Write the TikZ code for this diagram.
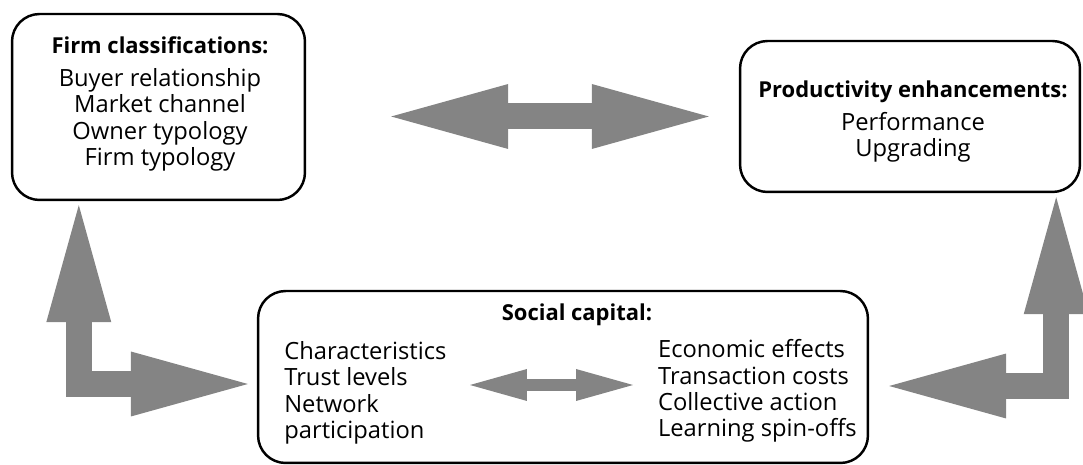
\documentclass[tikz,border=0pt]{standalone}
\usepackage{fontspec}
\setmainfont{Open Sans}
\usepackage{tikz}
\usetikzlibrary{arrows.meta, calc}
\definecolor{arrowgray}{RGB}{132,132,132}

\begin{document}
\begin{tikzpicture}[x=0.02cm, y=-0.02cm,
    roundbox/.style={draw, line width=1.4pt, rounded corners=0.55cm, inner sep=0pt},
    boxtitle/.style={font=\fontsize{12.5}{15}\selectfont\bfseries, inner sep=0pt},
    boxitems/.style={font=\fontsize{13.5}{15}\selectfont, inner sep=0pt},
    bigtip/.tip={Triangle[length=2.34cm, width=1.3cm, line width=0pt]},
    smalltip/.tip={Triangle[length=1.14cm, width=0.64cm, line width=0pt]},
    fatarrow/.style={draw=arrowgray, line width=0.52cm, bigtip-bigtip},
    slimarrow/.style={draw=arrowgray, line width=0.24cm, smalltip-smalltip}]
    \useasboundingbox (0,0) rectangle (1083,465);

    \node[roundbox, minimum width=5.86cm, minimum height=3.72cm] at (158.5,107) (fc) {};
    \node[roundbox, minimum width=6.8cm, minimum height=3.02cm] at (910,116.5) (pe) {};
    \node[roundbox, minimum width=12.2cm, minimum height=3.44cm] at (563,377) (sc) {};

    \node[boxtitle] at (160,45) (fctitle) {Firm classifications:};
    \node[boxitems, align=center] at (160,120) (fclist) {Buyer relationship\\Market channel\\Owner typology\\Firm typology};
    \node[boxtitle] at (913,92) (petitle) {Productivity enhancements:};
    \node[boxitems, align=center] at (913,137) (pelist) {Performance\\Upgrading};
    \node[boxtitle] at (577,315) (sctitle) {Social capital:};
    \node[boxitems, align=left, anchor=west] at (284,393) (scleft) {Characteristics\\Trust levels\\Network\\participation};
    \node[boxitems, align=left, anchor=east] at (857,391) (scright) {Economic effects\\Transaction costs\\Collective action\\Learning spin-offs};

    \draw[fatarrow, shorten <=1.7cm, shorten >=0.6cm] (fc.east |- pe.west) -- (pe.west);
    \draw[fatarrow, shorten <=0.08cm, shorten >=0.18cm] ($(fc.south west)+(68,0)$) |- ($(sc.west)+(0,7)$);
    \draw[fatarrow, shorten <=0.08cm, shorten >=0.4cm] ($(pe.south east)+(-25,0)$) |- ($(sc.east)+(0,9)$);
    \draw[slimarrow] ($(sc.center)+(-93,8)$) -- ($(sc.center)+(70,8)$);
\end{tikzpicture}
\end{document}
